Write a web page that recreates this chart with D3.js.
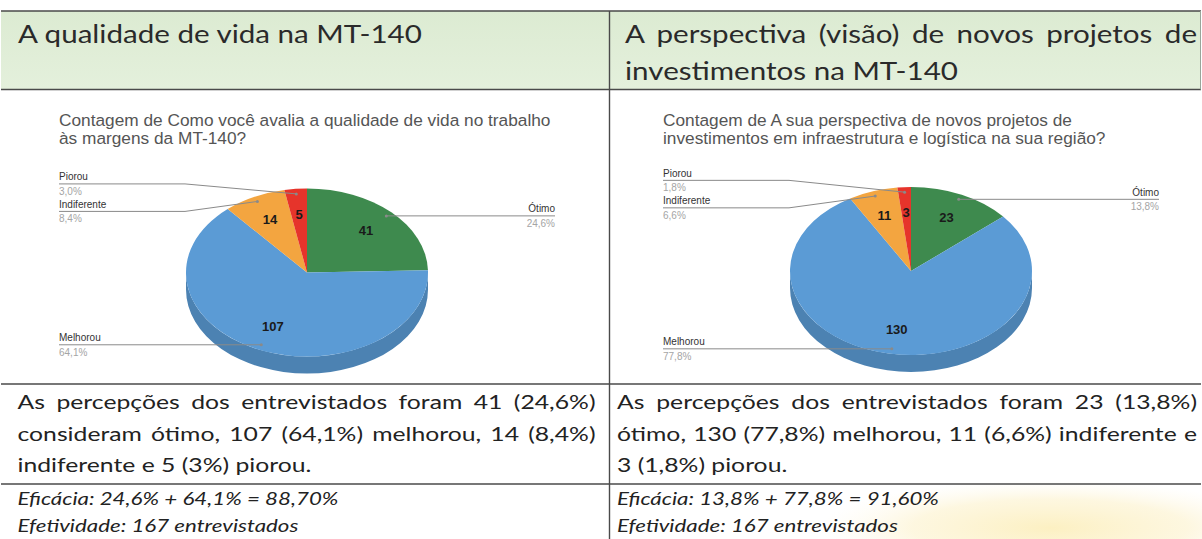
<!DOCTYPE html>
<html>
<head>
<meta charset="utf-8">
<script src="https://cdn.jsdelivr.net/npm/d3@7"></script>
<style>
	body { margin: 0; background: #fff; }
	svg { display: block; }
</style>
</head>
<body>
<svg id="chart" width="1202" height="539"></svg>
<script>
// slice order as drawn, clockwise from 12 o'clock
const categories = ["Ótimo", "Melhorou", "Indiferente", "Piorou"];
const sliceColors = ["#3e8a4e", "#5b9bd5", "#f3a540", "#e6342b"];
const qualidadeValues = [41, 107, 14, 5];
const investimentoValues = [23, 130, 11, 3];

const headerLeft = ["A qualidade de vida na MT-140"];
const headerRight = ["A perspectiva (visão) de novos projetos de", "investimentos na MT-140"];
const chartTitleLeft = ["Contagem de Como você avalia a qualidade de vida no trabalho", "às margens da MT-140?"];
const chartTitleRight = ["Contagem de A sua perspectiva de novos projetos de", "investimentos em infraestrutura e logística na sua região?"];
const textLeft = ["As percepções dos entrevistados foram 41 (24,6%)", "consideram ótimo, 107 (64,1%) melhorou, 14 (8,4%)", "indiferente e 5 (3%) piorou."];
const textRight = ["As percepções dos entrevistados foram 23 (13,8%)", "ótimo, 130 (77,8%) melhorou, 11 (6,6%) indiferente e", "3 (1,8%) piorou."];
const notesLeft = ["Eficácia: 24,6% + 64,1% = 88,70%", "Efetividade: 167 entrevistados"];
const notesRight = ["Eficácia: 13,8% + 77,8% = 91,60%", "Efetividade: 167 entrevistados"];

(function() {
	const svg = d3.select("#chart");
	const docFont = "Lato, 'Open Sans', sans-serif";
	const chartFont = "'Liberation Sans', Arial, sans-serif";
	const pctFormat = v => d3.format(".1f")(v).replace(".", ",") + "%";

	const defs = svg.append("defs");
	let hg = defs.append("linearGradient").attr("id", "headBg").attr("x1", 0).attr("y1", 0).attr("x2", 0).attr("y2", 1);
	hg.append("stop").attr("offset", "0%").attr("stop-color", "#dcebd2");
	hg.append("stop").attr("offset", "100%").attr("stop-color", "#e4f0dc");
	let yg = defs.append("radialGradient").attr("id", "glow");
	yg.append("stop").attr("offset", "0%").attr("stop-color", "#fcf0c2").attr("stop-opacity", 1);
	yg.append("stop").attr("offset", "60%").attr("stop-color", "#fdf5d8").attr("stop-opacity", 0.8);
	yg.append("stop").attr("offset", "100%").attr("stop-color", "#fefaec").attr("stop-opacity", 0);

	// header band + pale highlight in the corner
	svg.append("rect").attr("x", 1).attr("y", 11).attr("width", 1199).attr("height", 78).attr("fill", "url(#headBg)");
	svg.append("ellipse").attr("cx", 1050).attr("cy", 528).attr("rx", 230).attr("ry", 48).attr("fill", "url(#glow)");

	// measure a string, used to fit the scanned widths
	function natural(str, font, size, italic) {
		let t = svg.append("text").attr("font-family", font).attr("font-size", size)
			.attr("font-style", italic ? "italic" : null).text(str);
		let w = t.node().getComputedTextLength();
		t.remove();
		return w;
	}

	function line(g, str, x, y, o) {
		let t = g.append("text")
			.attr("transform", "translate(" + x + "," + y + ") scale(" + o.sx + ",1)")
			.attr("font-family", o.font)
			.attr("font-size", o.size)
			.attr("font-style", o.italic ? "italic" : null)
			.attr("fill", o.color)
			.text(str);
		if (o.justify) {
			let w = t.node().getComputedTextLength();
			let spaces = (str.match(/ /g) || []).length;
			t.style("word-spacing", ((o.justify / o.sx - w) / spaces) + "px");
		}
		return t;
	}

	const head = { font: docFont, size: 25, color: "#2a2a2a" };
	head.sx = 404 / natural(headerLeft[0], head.font, head.size);
	const body = { font: docFont, size: 19, color: "#222" };
	// the tightest justified lines decide the stretch
	body.sx = Math.min(566 / natural(textLeft[1], body.font, body.size),
		574 / natural(textRight[1], body.font, body.size));
	const note = { font: docFont, size: 16.5, color: "#222", italic: true };
	note.sx = 321 / natural(notesLeft[0], note.font, note.size, true);
	const ctitle = { font: chartFont, size: 17, color: "#555" };
	ctitle.sx = 492 / natural(chartTitleLeft[0], ctitle.font, ctitle.size);

	const g = svg.append("g");

	// headers
	line(g, headerLeft[0], 18, 43, head);
	line(g, headerRight[0], 625, 43, Object.assign({ justify: 572 }, head));
	line(g, headerRight[1], 625, 80, head);

	// paragraph rows
	const bodyY = [409, 440.5, 471.5];
	textLeft.forEach((s, i) => line(g, s, 17.5, bodyY[i], Object.assign({ justify: i < 2 ? 578 : null }, body)));
	textRight.forEach((s, i) => line(g, s, 617, bodyY[i], Object.assign({ justify: i < 2 ? 580 : null }, body)));
	const noteY = [505, 532];
	notesLeft.forEach((s, i) => line(g, s, 17.5, noteY[i], note));
	notesRight.forEach((s, i) => line(g, s, 617, noteY[i], note));

	// pie charts
	makePie(qualidadeValues, chartTitleLeft, 59, 272.5);
	makePie(investimentoValues, chartTitleRight, 663, 271);

	function makePie(values, title, x0, cy) {
		const w = 496, rx = 121, ry = 84, depth = 17;
		const cx = x0 + w / 2;
		const total = d3.sum(values);
		const color = d3.scaleOrdinal(categories, sliceColors);
		const arcs = d3.pie().sort(null)(values);
		const cg = svg.append("g");

		title.forEach((s, i) => line(cg, s, x0, 126 + i * 18, ctitle));

		const pt = (a, f) => [cx + rx * f * Math.sin(a), cy - ry * f * Math.cos(a)];

		// side wall, only the front half is visible
		arcs.forEach((d, i) => {
			let s = Math.max(d.startAngle, Math.PI / 2), e = Math.min(d.endAngle, 3 * Math.PI / 2);
			if (e <= s) return;
			let p0 = pt(s, 1), p1 = pt(e, 1);
			cg.append("path")
				.attr("d", "M" + p0 + "A" + rx + "," + ry + " 0 0 1 " + p1 +
					"L" + p1[0] + "," + (p1[1] + depth) +
					"A" + rx + "," + ry + " 0 0 0 " + p0[0] + "," + (p0[1] + depth) + "Z")
				.attr("fill", d3.color(color(categories[i])).darker(0.5));
		});

		// top face
		arcs.forEach((d, i) => {
			let p0 = pt(d.startAngle, 1), p1 = pt(d.endAngle, 1);
			let large = d.endAngle - d.startAngle > Math.PI ? 1 : 0;
			cg.append("path")
				.attr("d", "M" + cx + "," + cy + "L" + p0 + "A" + rx + "," + ry + " 0 " + large + " 1 " + p1 + "Z")
				.attr("fill", color(categories[i]));
		});

		// counts inside the slices
		arcs.forEach(d => {
			let p = pt((d.startAngle + d.endAngle) / 2, 0.7);
			cg.append("text")
				.attr("x", p[0]).attr("y", p[1]).attr("dy", "0.36em")
				.attr("text-anchor", "middle")
				.attr("font-family", chartFont).attr("font-size", 13).attr("font-weight", "bold")
				.attr("fill", "#1a1a1a")
				.text(d.value);
		});

		// labelled legend, left and right of the pie
		let labels = arcs.map((d, i) => {
			let mid = (d.startAngle + d.endAngle) / 2;
			let a = pt(mid, 0.94);
			return { name: categories[i], pct: pctFormat(d.value / total * 100), anchor: a, y: a[1], left: mid > Math.PI };
		});
		[true, false].forEach(side => spread(labels.filter(l => l.left === side), 27.5));

		labels.forEach(l => {
			let edge = l.left ? x0 : x0 + w;
			let knee = l.left ? cx - rx - 1 : cx + rx + 1;
			cg.append("polyline")
				.attr("points", [[edge, l.y], [knee, l.y], l.anchor].join(" "))
				.attr("fill", "none").attr("stroke", "#8a8a8a").attr("stroke-width", 1);
			cg.append("circle").attr("cx", l.anchor[0]).attr("cy", l.anchor[1]).attr("r", 1.5).attr("fill", "#8a8a8a");
			cg.append("text")
				.attr("x", edge).attr("y", l.y - 3.5)
				.attr("text-anchor", l.left ? "start" : "end")
				.attr("font-family", chartFont).attr("font-size", 10).attr("fill", "#333")
				.text(l.name);
			cg.append("text")
				.attr("x", edge).attr("y", l.y + 11)
				.attr("text-anchor", l.left ? "start" : "end")
				.attr("font-family", chartFont).attr("font-size", 10).attr("fill", "#a5a5a5")
				.text(l.pct);
		});
	}

	// push overlapping labels apart, keeping each group centred on its anchors
	function spread(items, gap) {
		items.sort((a, b) => a.y - b.y);
		let groups = items.map(d => ({ items: [d], top: d.y }));
		let merged = true;
		while (merged) {
			merged = false;
			for (let i = 1; i < groups.length; i++) {
				let a = groups[i - 1], b = groups[i];
				if (b.top < a.top + a.items.length * gap) {
					let all = a.items.concat(b.items);
					let mean = d3.mean(all, d => d.anchor[1]);
					groups.splice(i - 1, 2, { items: all, top: mean - (all.length - 1) * gap / 2 });
					merged = true;
					break;
				}
			}
		}
		groups.forEach(gr => gr.items.forEach((d, k) => d.y = gr.top + k * gap));
	}

	// table rules
	const rule = "#4a4a4a";
	[11, 89.5, 384, 484].forEach(y => {
		svg.append("line").attr("x1", 1).attr("x2", 1201).attr("y1", y).attr("y2", y)
			.attr("stroke", rule).attr("stroke-width", 1.6);
	});
	svg.append("line").attr("x1", 609.5).attr("x2", 609.5).attr("y1", 11).attr("y2", 539)
		.attr("stroke", rule).attr("stroke-width", 1.4);
	svg.append("line").attr("x1", 1200.5).attr("x2", 1200.5).attr("y1", 11).attr("y2", 89.5)
		.attr("stroke", "#9aa59a").attr("stroke-width", 1);
})();
</script>
</body>
</html>
